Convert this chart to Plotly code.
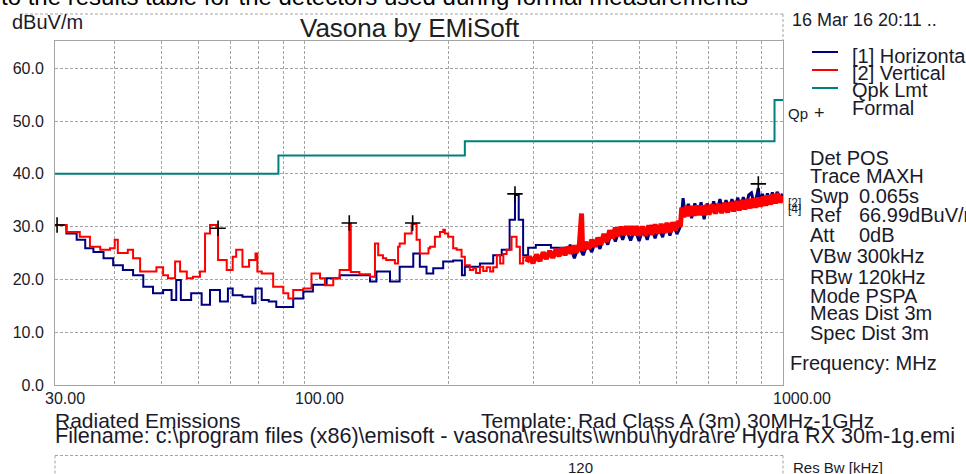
import math
import plotly.graph_objects as go

# ---------------- data ----------------
# [1] Horizontal trace: frequency (MHz) and level (dBuV/m)
horiz_f = [30, 31.7, 33.3, 34.7, 36.1, 37.9, 39.7, 41.6, 43.7, 45.9,
           48.1, 50.5, 52.6, 53.8, 55.0, 57.8, 60.8, 63.3, 66.4, 69.0,
           70.6, 74.0, 77.6, 78.8, 81.2, 84.0, 87.1, 91.5, 94.5, 99.2,
           103.9, 111.0, 118.2, 125.6, 134.5, 136.8, 141.1, 150.6, 157.8, 168.5,
           173.9, 179.6, 185.5, 194.6, 204.2, 213.0, 216.0, 232.3, 247.6, 258.0, 268.0,
           275.0, 280.0, 286.0, 293.0, 304.0, 327.0, 358.0,
           366, 374, 382, 390, 398, 406, 414, 422, 430, 438,
           446, 454, 462, 470, 480, 490, 500, 510, 520, 530,
           540, 550, 560, 570, 580, 590, 600, 610, 618, 624,
           634, 644, 654, 664, 674, 684, 694, 705, 716, 727,
           738, 749, 760, 771, 782, 793, 804, 815, 826, 837,
           848, 859, 870, 881, 888, 895, 906, 917, 928, 939,
           950, 961, 972, 983, 1000]
horiz_v = [30.3, 28.7, 27.5, 25.9, 25.2, 24.0, 22.7, 21.8, 20.8, 18.6,
           17.4, 18.0, 16.1, 19.9, 16.1, 17.4, 15.2, 18.0, 15.8, 18.3,
           17.0, 16.7, 15.5, 18.3, 16.1, 15.8, 14.8, 14.8, 16.4, 17.7,
           19.0, 20.2, 20.8, 20.8, 20.8, 19.6, 21.5, 19.6, 22.4, 24.9,
           22.4, 21.1, 22.1, 23.4, 23.6, 20.8, 22.4, 23.0, 24.6, 25.6, 31.3,
           36.0, 31.3, 24.6, 26.0, 26.5, 26.0, 26.6,
           24.0, 26.3, 24.6, 26.8, 25.2, 27.4, 25.8, 28.0, 26.6, 29.0,
           27.2, 29.3, 27.5, 29.5, 27.4, 29.4, 27.3, 29.6, 27.5, 30.3,
           27.8, 29.9, 28.0, 30.6, 28.3, 30.2, 28.6, 30.0, 35.4, 32.4,
           34.3, 31.6, 34.4, 32.4, 34.6, 31.4, 34.4, 32.6, 34.8, 32.8,
           35.2, 33.0, 35.0, 33.2, 35.2, 33.4, 35.5, 33.5, 35.6, 33.8,
           36.0, 36.4, 34.2, 35.8, 37.3, 34.4, 36.2, 34.6, 36.3, 34.8,
           36.5, 35.0, 36.6, 35.2, 36.2]

# [2] Vertical trace
vert_f = [30, 31.7, 33.8, 35.5, 37.3, 39.1, 40.0, 40.6, 42.6, 43.7,
          45.2, 47.4, 48.9, 50.5, 51.7, 53.5, 54.8, 56.6, 58.3, 60.3,
          61.8, 63.3, 65.3, 65.8, 68.6, 70.6, 71.8, 74.0, 76.4, 78.8,
          79.5, 81.2, 85.8, 90.1, 92.3, 94.5, 99.2, 103.2, 107.5, 110.1,
          114.6, 118.2, 122.8, 123.8, 124.7, 130.0, 136.8, 140.1, 142.3, 145.6,
          147.9, 154.2, 156.6, 157.8, 161.8, 167.2, 171.2, 173.9, 181.3, 182.7,
          187.0, 191.6, 194.6, 196.2, 199.3, 204.2, 207.6, 212.6, 216.0, 221.3,
          224.9, 228.0, 232.3, 236.0, 240.0, 244.0, 247.6, 252.0, 256.0, 260.0,
          264.1, 270.5, 277.1, 281.6, 286.0, 290.9,
          295, 300, 305, 310, 315, 320, 325, 330, 335, 340,
          345, 350, 355, 360, 365, 370, 375, 379, 381, 386,
          392, 398, 404, 410, 416, 422, 428, 434, 440, 446,
          452, 458, 464, 470, 476, 482, 488, 494, 500, 508,
          516, 524, 532, 540, 548, 556, 564, 572, 580, 588,
          596, 604, 610, 614, 620, 628, 636, 644, 652, 660,
          668, 676, 684, 692, 700, 711, 722, 733, 744, 755,
          766, 777, 788, 799, 810, 821, 832, 843, 854, 865,
          876, 887, 898, 909, 920, 931, 942, 953, 964, 975,
          986, 1000]
vert_v = [30.3, 29.0, 28.1, 26.2, 25.6, 25.9, 27.5, 25.0, 25.6, 24.0,
          21.5, 21.5, 22.3, 20.8, 20.2, 23.4, 21.5, 20.2, 20.5, 21.5,
          28.7, 30.3, 30.0, 23.7, 21.8, 24.3, 25.6, 22.4, 23.7, 24.9,
          21.5, 21.1, 18.6, 17.4, 16.4, 18.0, 18.3, 21.1, 20.2, 18.9,
          20.2, 21.8, 21.8, 30.6, 21.4, 21.0, 20.5, 26.8, 24.6, 24.0,
          23.7, 23.0, 26.2, 26.8, 28.7, 30.5, 27.5, 24.9, 25.9, 26.2,
          28.1, 29.0, 29.4, 28.7, 28.1, 25.9, 25.6, 24.3, 22.7, 21.8,
          22.1, 21.2, 22.4, 21.6, 22.3, 21.5, 22.3, 24.6, 23.0, 24.8,
          25.6, 28.1, 26.2, 23.0, 24.2, 23.3,
          24.3, 23.1, 24.7, 23.5, 25.1, 23.9, 25.4, 24.1, 25.7, 24.4,
          26.0, 24.6, 26.2, 24.9, 26.4, 25.1, 26.7, 32.5, 25.4, 27.1,
          25.8, 27.5, 26.2, 27.9, 26.6, 28.6, 27.1, 29.3, 27.8, 29.8,
          28.2, 30.0, 28.4, 30.1, 28.5, 30.1, 28.4, 30.1, 28.3, 30.0,
          28.3, 30.2, 28.5, 30.4, 28.7, 30.5, 28.8, 30.7, 29.0, 30.8,
          29.3, 31.1, 30.0, 33.6, 31.8, 33.9, 32.0, 33.9, 32.1, 34.0,
          32.2, 34.0, 32.2, 34.1, 32.3, 34.2, 32.5, 34.3, 32.6, 34.5,
          32.7, 34.6, 32.9, 34.8, 33.1, 35.0, 33.3, 35.2, 33.5, 35.3,
          33.6, 35.5, 33.8, 35.7, 34.0, 35.9, 34.2, 36.1, 34.4, 36.3,
          34.6, 35.8]

# frequency above which the sweep is drawn as a dense band (sweep point spacing)
dense_from_h = 358.0
dense_from_v = 290.9

# Qpk limit (step line)
limit_f = [30, 88, 216, 960, 1000]
limit_v = [40.0, 43.5, 46.2, 54.0, 54.0]

# peak markers
marker_f = [30.3, 65.8, 123.8, 168.0, 275.0, 888.0]
marker_v = [30.3, 29.7, 30.7, 30.7, 36.2, 38.1]

# axes
grid_f = [30, 40, 50, 60, 70, 80, 90, 100, 200, 300, 400, 500, 600, 700, 800, 900, 1000]
x_label_f = [30, 100, 1000]
x_label_text = ["30.00", "100.00", "1000.00"]
y_tick_vals = [0, 10, 20, 30, 40, 50, 60]
y_tick_text = ["0.0", "10.0", "20.0", "30.0", "40.0", "50.0", "60.0"]

legend_names = ["[1] Horizontal", "[2] Vertical", "Qpk Lmt", "Formal"]
info_lines = [("Det POS", ""), ("Trace MAXH", ""), ("Swp", "0.065s"), ("Ref", "66.99dBuV/m"),
              ("Att", "0dB"), ("VBw 300kHz", ""), ("RBw 120kHz", ""), ("Mode PSPA", ""),
              ("Meas Dist 3m", ""), ("Spec Dist 3m", "")]

# ---------------- styling / layout ----------------
W, H = 966, 474
L, R, T, B = 55, 783, 41, 385
FONT = "Liberation Sans, Arial, sans-serif"
TXT = "#1a1a2a"
GRID = "#a4a4a4"
C_H, C_V, C_L = "#00007f", "#ff0000", "#00807a"


def px(x, y):
    return (x - L) / (R - L), (B - y) / (B - T)


def split(fs, vs, f0):
    i = fs.index(f0)
    return (fs[:i + 1], vs[:i + 1]), (fs[i:], vs[i:])


fig = go.Figure()
for (fs, vs, f0, col, name, bw) in [(horiz_f, horiz_v, dense_from_h, C_H, legend_names[0], 3),
                                    (vert_f, vert_v, dense_from_v, C_V, legend_names[1], 5)]:
    (f1, v1), (f2, v2) = split(fs, vs, f0)
    fig.add_trace(go.Scatter(x=f1, y=v1, mode="lines", name=name, legendgroup=name,
                             line=dict(color=col, width=2, shape="hv"), showlegend=False))
    fig.add_trace(go.Scatter(x=f2, y=v2, mode="lines", name=name, legendgroup=name,
                             line=dict(color=col, width=bw, shape="linear"), showlegend=False))
fig.add_trace(go.Scatter(x=limit_f, y=limit_v, mode="lines", name=legend_names[2],
                         line=dict(color=C_L, width=2, shape="hv"), showlegend=False))
fig.add_trace(go.Scatter(x=marker_f, y=marker_v, mode="markers", name="peaks",
                         marker=dict(symbol="cross-thin", size=11, line=dict(color="#000000", width=1.6)),
                         showlegend=False))

annotations = []


def text(s, x, y, size=20, xanchor="left", color=TXT):
    ax, ay = px(x, y)
    annotations.append(dict(text=s, x=ax, y=ay, xref="paper", yref="paper", xanchor=xanchor,
                            yanchor="middle", showarrow=False,
                            font=dict(family=FONT, size=size, color=color)))


# x tick labels
for f, s in zip(x_label_f, x_label_text):
    annotations.append(dict(text=s, x=math.log10(f), y=px(0, 398)[1], xref="x", yref="paper",
                            xanchor="left", yanchor="middle", xshift=-12, showarrow=False,
                            font=dict(family=FONT, size=16, color=TXT)))

text("to the results table for the detectors used during formal measurements", -1, -4, size=24, color="#000000")
text("dBuV/m", 10, 22, size=20)
text("Vasona by EMiSoft", 410, 28, size=26, xanchor="center", color="#202020")
text("16 Mar 16 20:11 ..", 790, 20, size=18)

legend_y = [56, 73, 90, 108]
for name, yy in zip(legend_names, legend_y):
    text(name, 850, yy, size=20)
text("Qp", 786, 113, size=15)
text("+", 819, 113, size=18, xanchor="center")

info_y = [158, 176, 196, 215, 235, 256, 277, 296, 313, 333]
for (a, b), yy in zip(info_lines, info_y):
    text(a, 808, yy, size=20)
    if b:
        text(b, 857, yy, size=20)
text("[2]", 786, 203, size=12)
text("[4]", 786, 209, size=12)
text("Frequency: MHz", 788, 363, size=20)

text("Radiated Emissions", 53, 420, size=21)
text("Template: Rad Class A (3m) 30MHz-1GHz", 479, 420, size=21)
text("Filename: c:\\program files (x86)\\emisoft - vasona\\results\\wnbu\\hydra\\re Hydra RX 30m-1g.emi",
     53, 435, size=21.6)
text("120", 580, 467, size=15, xanchor="center")
text("Res Bw [kHz]", 791, 467, size=15)

shapes = []


def seg(x0, y0, x1, y1, color=GRID, width=1, dash="3px,2px"):
    a0, b0 = px(x0, y0)
    a1, b1 = px(x1, y1)
    shapes.append(dict(type="line", xref="paper", yref="paper", x0=a0, y0=b0, x1=a1, y1=b1,
                       line=dict(color=color, width=width, dash=dash)))


seg(20, 14, 783, 14)
seg(783, 14, 783, 41)
seg(55, 455.5, 783, 455.5)
seg(55, 455.5, 55, 480)
seg(783, 455.5, 783, 480)
for c, yy in zip([C_H, C_V, C_L], [52, 70, 88]):
    seg(812, yy, 838, yy, color=c, width=2, dash="solid")

fig.update_layout(
    width=W, height=H, autosize=False,
    margin=dict(l=L, r=W - R, t=T, b=H - B, pad=0),
    paper_bgcolor="white", plot_bgcolor="white",
    font=dict(family=FONT, color=TXT),
    showlegend=False,
    annotations=annotations,
    shapes=shapes,
    xaxis=dict(type="log", range=[math.log10(30), math.log10(1000)],
               tickmode="array", tickvals=grid_f, showticklabels=False, ticks="",
               showgrid=True, gridcolor=GRID, griddash="3px,2px", gridwidth=1,
               showline=True, mirror=True, linecolor=GRID, linewidth=1, zeroline=False),
    yaxis=dict(range=[0, 65.17], tickmode="array", tickvals=y_tick_vals, ticktext=y_tick_text,
               ticks="", ticklabelstandoff=7, tickfont=dict(family=FONT, size=16, color=TXT),
               showgrid=True, gridcolor=GRID, griddash="3px,2px", gridwidth=1,
               showline=True, mirror=True, linecolor=GRID, linewidth=1, zeroline=False),
)

fig.write_html("out.html", config={"displayModeBar": False},
               post_script="document.body.style.margin='0';document.body.style.overflow='hidden';")
